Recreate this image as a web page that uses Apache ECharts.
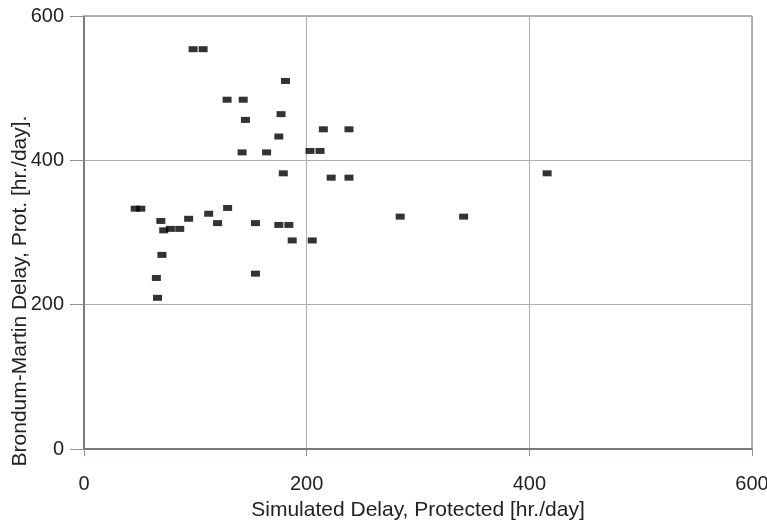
<!DOCTYPE html>
<html>
<head>
<meta charset="utf-8">
<script src="https://cdn.jsdelivr.net/npm/echarts@6/dist/echarts.min.js"></script>
<style>
html,body{margin:0;padding:0;background:#fff;}
#chart{width:767px;height:521px;}
</style>
</head>
<body>
<div id="chart"></div>
<script>
// Simulated delay (x) and Brondum-Martin delay (y), hr./day
var simulatedDelay = [98, 107, 181, 128.5, 143, 145, 177, 175, 142, 164, 203, 212, 215, 238, 179, 222, 238, 284, 341, 416,
  46, 51, 69, 71.6, 77.6, 86, 94, 112, 120, 129, 154, 175, 184, 187, 205, 70, 65, 66, 154];
var brondumDelay = [554, 554, 510, 484, 484, 456, 464, 433, 411, 411, 413, 413, 443, 443, 382, 376, 376, 322, 322, 382,
  333, 333, 316, 303, 305, 305, 319, 326, 313, 334, 313, 310.5, 310.5, 289, 289, 269, 237, 209.5, 243];
var xTicks = [0, 200, 400, 600];
var yTicks = [0, 200, 400, 600];
var xTitle = 'Simulated Delay, Protected [hr./day]';
var yTitle = 'Brondum-Martin Delay, Prot. [hr./day].';

var points = simulatedDelay.map(function (x, i) { return [x, brondumDelay[i]]; });
var font = '"Liberation Sans", Arial, sans-serif';

var chart = echarts.init(document.getElementById('chart'), null, {renderer: 'canvas'});
chart.setOption({
  animation: false,
  backgroundColor: '#fff',
  grid: {left: 84, right: 15, top: 16, bottom: 72, show: true, borderColor: '#6f6764', borderWidth: 1,
    outerBoundsMode: 'none', containLabel: false},
  xAxis: {
    type: 'value', min: xTicks[0], max: xTicks[xTicks.length - 1], interval: 200,
    name: xTitle, nameLocation: 'middle', nameGap: 51,
    nameTextStyle: {fontFamily: font, fontSize: 21, color: '#222'},
    axisLine: {show: true, lineStyle: {color: '#6f6764', width: 1.5}},
    axisTick: {show: true, inside: false, length: 7, lineStyle: {color: '#9a918d'}},
    axisLabel: {fontFamily: font, fontSize: 20, color: '#222', margin: 25},
    splitLine: {show: true, lineStyle: {color: '#b5aca8', width: 1}}
  },
  yAxis: {
    type: 'value', min: yTicks[0], max: yTicks[yTicks.length - 1], interval: 200,
    axisLine: {show: true, lineStyle: {color: '#6f6764', width: 1.5}},
    axisTick: {show: true, inside: false, length: 14, lineStyle: {color: '#9a918d'}},
    axisLabel: {fontFamily: font, fontSize: 20, color: '#222', margin: 20},
    splitLine: {show: true, lineStyle: {color: '#b5aca8', width: 1}}
  },
  graphic: [{
    type: 'text', x: 20, y: 291, rotation: Math.PI / 2,
    style: {text: yTitle, font: '21px ' + font, fill: '#222', textAlign: 'center', textVerticalAlign: 'middle'}
  }],
  series: [{
    type: 'scatter',
    symbol: 'rect',
    symbolSize: [9, 6],
    itemStyle: {color: '#000'},
    data: points
  }]
});
</script>
</body>
</html>
